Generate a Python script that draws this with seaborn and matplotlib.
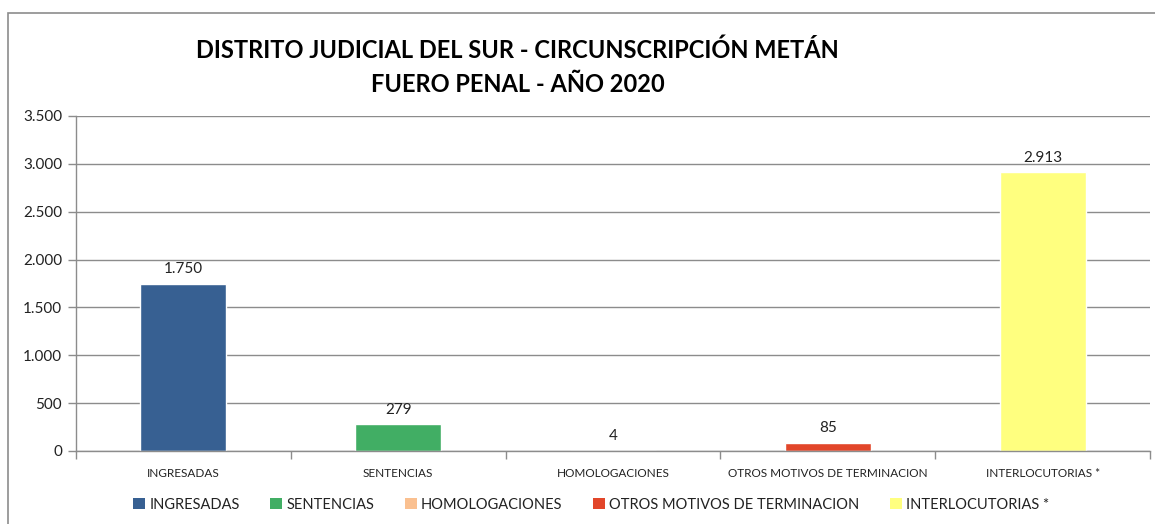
import matplotlib
matplotlib.use("Agg")
import matplotlib.pyplot as plt
import matplotlib.ticker as mticker
from matplotlib.patches import Rectangle
import seaborn as sns
import pandas as pd

categories = ["INGRESADAS", "SENTENCIAS", "HOMOLOGACIONES",
              "OTROS MOTIVOS DE TERMINACION", "INTERLOCUTORIAS *"]
values = [1750, 279, 4, 85, 2913]
colors = ["#376092", "#41AE64", "#FAC090", "#E2462A", "#FFFF7F"]
title_lines = ["DISTRITO JUDICIAL DEL SUR - CIRCUNSCRIPCIÓN METÁN",
               "FUERO PENAL - AÑO 2020"]
y_ticks = [0, 500, 1000, 1500, 2000, 2500, 3000, 3500]

sns.set_theme(style="white")
plt.rcParams["font.family"] = ["Lato", "DejaVu Sans"]


def dotted(v, _pos=None):
    return f"{int(round(v)):,}".replace(",", ".")


df = pd.DataFrame({"categoria": categories, "valor": values})

fig = plt.figure(figsize=(11.55, 5.24), dpi=100)
ax = fig.add_axes([76 / 1155, 73 / 524, 1074 / 1155, 335 / 524])

sns.barplot(data=df, x="categoria", y="valor", hue="categoria",
            palette=colors, order=categories, hue_order=categories,
            dodge=False, width=0.4, legend=False, ax=ax, saturation=1)

ax.set_xlim(-0.5, len(categories) - 0.5)
ax.set_ylim(0, 3500)
ax.set_yticks(y_ticks)
ax.yaxis.set_major_formatter(mticker.FuncFormatter(dotted))
ax.set_xlabel("")
ax.set_ylabel("")

# category boundaries carry the tick marks, centres carry the labels
ax.set_xticks([i - 0.5 for i in range(len(categories) + 1)])
ax.set_xticklabels([])
ax.set_xticks(range(len(categories)), minor=True)
ax.set_xticklabels(categories, minor=True, fontsize=8.5, color="#222222")
ax.tick_params(axis="x", which="major", direction="out", length=6,
               width=1, color="#8c8c8c", bottom=True)
ax.tick_params(axis="x", which="minor", length=0, pad=12)
ax.tick_params(axis="y", direction="out", length=6, width=1,
               color="#8c8c8c", left=True, labelsize=11,
               labelcolor="#222222", pad=4)

ax.yaxis.grid(True, color="#8c8c8c", linewidth=1)
ax.xaxis.grid(False)
ax.set_axisbelow(True)
for side in ["top", "right"]:
    ax.spines[side].set_visible(False)
for side in ["left", "bottom"]:
    ax.spines[side].set_color("#8c8c8c")
    ax.spines[side].set_linewidth(1)

for i, v in enumerate(values):
    ax.text(i, v + 80, dotted(v), ha="center", va="bottom",
            fontsize=11, color="#222222")

fig.text(0.448, 0.905, title_lines[0], ha="center", va="center",
         fontsize=17, fontweight="bold", color="black")
fig.text(0.448, 0.838, title_lines[1], ha="center", va="center",
         fontsize=17, fontweight="bold", color="black")

handles = [Rectangle((0, 0), 1, 1, facecolor=c, edgecolor="none")
           for c in colors]
fig.legend(handles, categories, loc="center", ncol=5,
           bbox_to_anchor=(0.512, 0.037), frameon=False, fontsize=10.5,
           handlelength=0.8, handleheight=0.8, handletextpad=0.3,
           columnspacing=2.1, labelcolor="#222222")

# outer chart border
fig.patches.append(Rectangle((8 / 1155, -0.1), 1.2, (524 - 13) / 524 + 0.1,
                             transform=fig.transFigure, fill=False,
                             edgecolor="#8c8c8c", linewidth=1.2))

fig.savefig("out.png", dpi=100)
